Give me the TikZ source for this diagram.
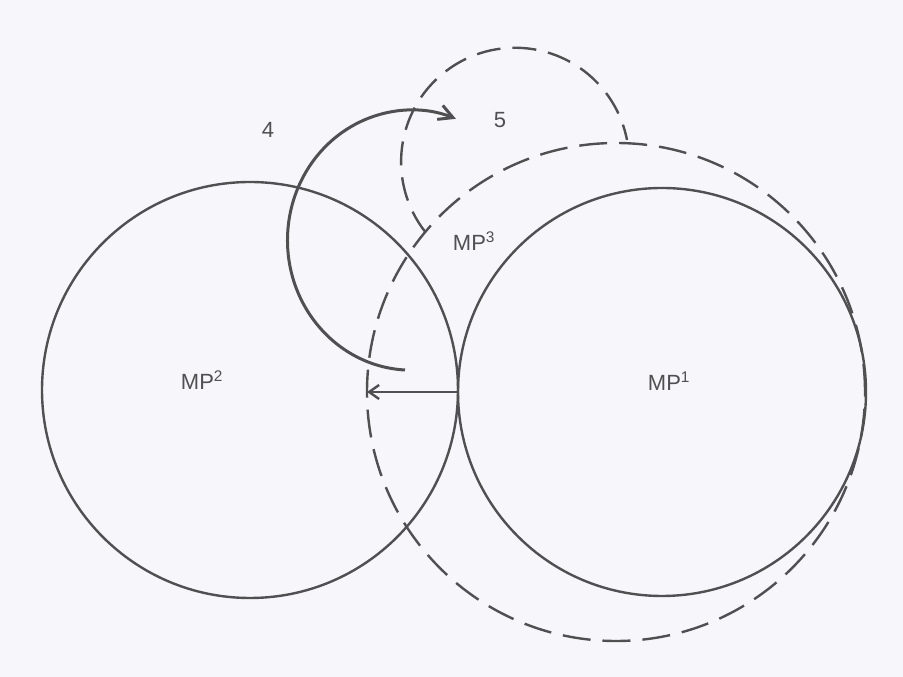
\documentclass[tikz,border=0pt]{standalone}
\usepackage{fontspec}
\setmainfont{Liberation Sans}
\usetikzlibrary{arrows.meta}
\definecolor{ink}{HTML}{505053}
\definecolor{paper}{HTML}{F7F7FB}

\begin{document}
\begin{tikzpicture}[x=1pt, y=1pt,
        ring/.style={circle, draw=ink, line width=2.4pt, inner sep=0pt, outer sep=0pt},
        dashring/.style={ring, dash pattern=on 28pt off 12pt},
        tag/.style={text=ink, font=\fontsize{22}{26}\selectfont}]
        \fill[paper] (0,0) rectangle (903,677);
        \useasboundingbox (0,0) rectangle (903,677);

        \node[ring, minimum size=416pt] (mp2c) at (250,287) {};
        \node[ring, minimum size=408pt] (mp1c) at (662,285) {};
        \node[dashring, minimum size=498pt] (mp3c) at (616,285) {};

        \draw[ink, line width=2.4pt, dash pattern=on 24pt off 12pt]
            (mp3c.140) arc[start angle=218, end angle=11, radius=114];

        \coordinate (swing) at (405,307);
        \draw[ink, line width=3pt, -{Straight Barb[length=14pt, width=15pt]}]
            (swing) arc[start angle=267, end angle=69, x radius=124, y radius=130];

        \draw[ink, line width=2.4pt, -{Straight Barb[length=10pt, width=14pt]}] (mp1c.west) -- (mp3c.west);

        \node[tag] (mp2) at (202,297) {MP\textsuperscript{2}};
        \node[tag] (mp1) at (669,296) {MP\textsuperscript{1}};
        \node[tag] (mp3) at (474,436) {MP\textsuperscript{3}};
        \node[tag] (four) at (268,547) {4};
        \node[tag] (five) at (500,557) {5};
    \end{tikzpicture}
\end{document}
